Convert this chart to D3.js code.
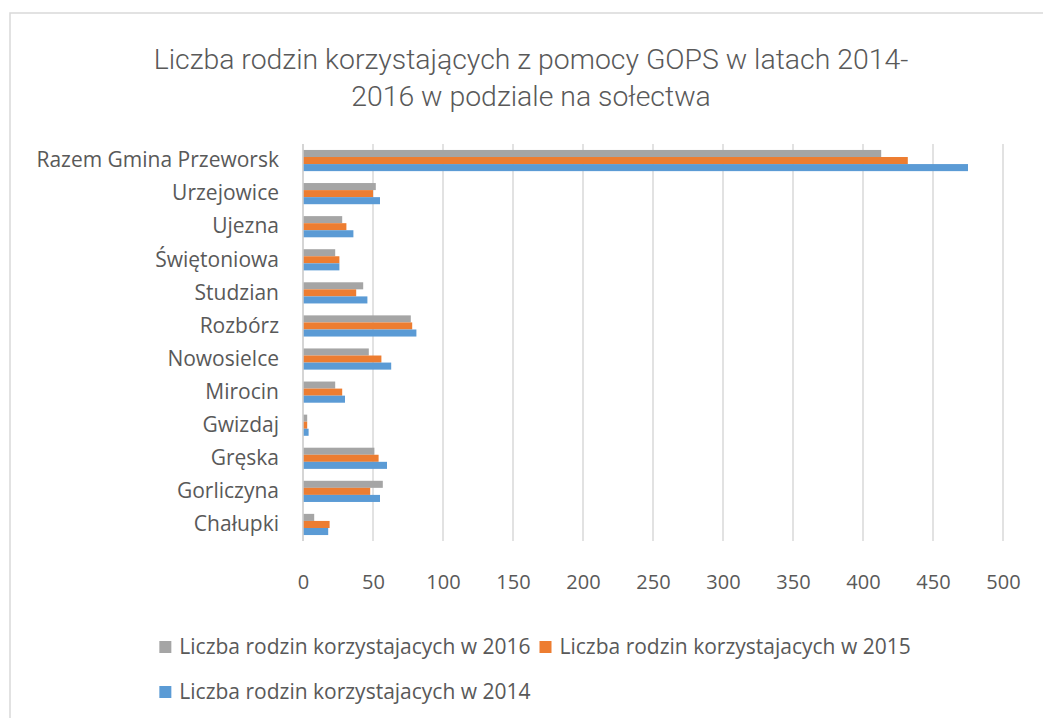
<!DOCTYPE html>
<html>
<head>
<meta charset="utf-8">
<script src="https://cdn.jsdelivr.net/npm/d3@7"></script>
<style>
  body { margin: 0; background: #fff; }
  svg { display: block; }
</style>
</head>
<body>
<div id="chart"></div>
<script>
// Data
const categories = ["Razem Gmina Przeworsk", "Urzejowice", "Ujezna", "Świętoniowa", "Studzian",
  "Rozbórz", "Nowosielce", "Mirocin", "Gwizdaj", "Gręska", "Gorliczyna", "Chałupki"];
const seriesNames = ["Liczba rodzin korzystajacych w 2016", "Liczba rodzin korzystajacych w 2015",
  "Liczba rodzin korzystajacych w 2014"];
const values2016 = [413, 52, 28, 23, 43, 77, 47, 23, 3, 51, 57, 8];
const values2015 = [432, 50, 31, 26, 38, 78, 56, 28, 3, 54, 48, 19];
const values2014 = [475, 55, 36, 26, 46, 81, 63, 30, 4, 60, 55, 18];
const tickValues = [0, 50, 100, 150, 200, 250, 300, 350, 400, 450, 500];
const colors = ["#a5a5a5", "#ed7d31", "#5b9bd5"];

const W = 1043, H = 718;
const textColor = "#595959";
const labelFont = "'Open Sans', sans-serif";

const svg = d3.select("#chart").append("svg")
  .attr("width", W)
  .attr("height", H);

// chart border (runs off the right and bottom edge like the original)
svg.append("rect")
  .attr("x", 10).attr("y", 13)
  .attr("width", W + 20).attr("height", H + 20)
  .attr("fill", "#fff")
  .attr("stroke", "#d9d9d9")
  .attr("stroke-width", 1.5);

// title
const title = svg.append("text")
  .attr("text-anchor", "middle")
  .attr("font-family", "Roboto, sans-serif")
  .attr("font-weight", 300)
  .attr("font-size", "28.4px")
  .attr("fill", textColor);
title.append("tspan").attr("x", 531).attr("y", 69)
  .text("Liczba rodzin korzystających z pomocy GOPS w latach 2014-");
title.append("tspan").attr("x", 531).attr("y", 106)
  .text("2016 w podziale na sołectwa");

const x = d3.scaleLinear().domain([0, 500]).range([303, 1003]);
const y = d3.scaleBand().domain(categories).range([144, 541])
  .paddingInner(0.36).paddingOuter(0.18);
const ySub = d3.scaleBand().domain(d3.range(3)).range([0, y.bandwidth()]);

// gridlines
svg.append("g")
  .selectAll("line")
  .data(tickValues)
  .join("line")
  .attr("x1", d => x(d)).attr("x2", d => x(d))
  .attr("y1", 144).attr("y2", 541)
  .attr("stroke", "#d9d9d9")
  .attr("stroke-width", 1.5);

// bars
const series = [values2016, values2015, values2014];
const rows = svg.append("g")
  .selectAll("g")
  .data(categories)
  .join("g")
  .attr("transform", d => `translate(0,${y(d)})`);

rows.selectAll("rect")
  .data((d, i) => series.map((s, k) => ({ k, v: s[i] })))
  .join("rect")
  .attr("x", x(0))
  .attr("y", d => ySub(d.k))
  .attr("width", d => x(d.v) - x(0))
  .attr("height", ySub.bandwidth())
  .attr("fill", d => colors[d.k]);

// axis line at 0
svg.append("line")
  .attr("x1", x(0)).attr("x2", x(0))
  .attr("y1", 144).attr("y2", 541)
  .attr("stroke", "#d0d0d0")
  .attr("stroke-width", 1.5);

// category labels
const yAxis = svg.append("g")
  .attr("transform", "translate(303,0)")
  .call(d3.axisLeft(y).tickSize(0).tickPadding(24));
yAxis.select(".domain").remove();
yAxis.selectAll(".tick text")
  .attr("font-family", labelFont)
  .attr("font-size", "21px")
  .attr("fill", textColor);

// value axis labels
const xAxis = svg.append("g")
  .attr("transform", "translate(0,575)")
  .call(d3.axisBottom(x).tickValues(tickValues).tickSize(0).tickPadding(0));
xAxis.select(".domain").remove();
xAxis.selectAll(".tick text")
  .attr("font-family", labelFont)
  .attr("font-size", "20px")
  .attr("fill", textColor);

// legend
const legendRows = [[0, 1], [2]];
const legendY = [647, 692];
const swatch = 12, gap = 8, itemGap = 9;
const legendSize = "21px";
const legend = svg.append("g");

// measure the first row to center it
const measure = t => {
  const tmp = legend.append("text")
    .attr("font-family", labelFont).attr("font-size", legendSize).text(t);
  const w = tmp.node().getComputedTextLength();
  tmp.remove();
  return w;
};
const rowWidth = legendRows[0].reduce((acc, k) => acc + swatch + gap + measure(seriesNames[k]), 0)
  + itemGap * (legendRows[0].length - 1);
const startX = 535 - rowWidth / 2;

legendRows.forEach((row, r) => {
  let cx = startX;
  row.forEach(k => {
    legend.append("rect")
      .attr("x", cx).attr("y", legendY[r] - swatch / 2)
      .attr("width", swatch).attr("height", swatch)
      .attr("fill", colors[k]);
    legend.append("text")
      .attr("x", cx + swatch + gap).attr("y", legendY[r])
      .attr("dy", "0.35em")
      .attr("font-family", labelFont)
      .attr("font-size", legendSize)
      .attr("fill", textColor)
      .text(seriesNames[k]);
    cx += swatch + gap + measure(seriesNames[k]) + itemGap;
  });
});
</script>
</body>
</html>
